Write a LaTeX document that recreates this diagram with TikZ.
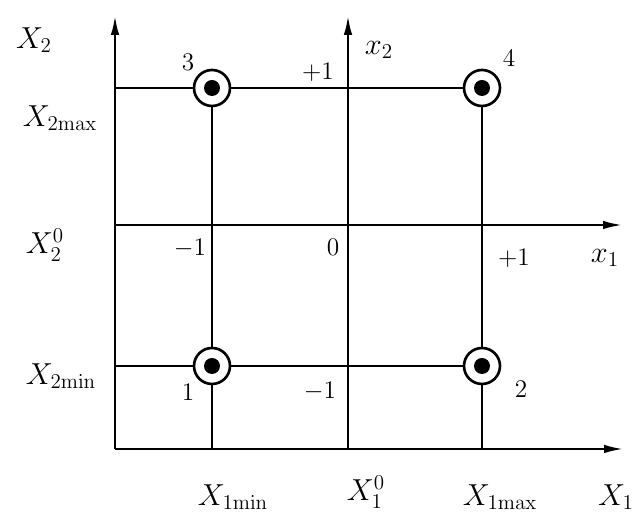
\documentclass[tikz,border=0pt]{standalone}
\usetikzlibrary{arrows.meta}
\begin{document}
\begin{tikzpicture}[x=0.02cm, y=0.02cm, line width=1.5pt,
    pt/.style={circle, draw, fill=white, minimum size=0.72cm, inner sep=0pt,
      path picture={\fill[black] (path picture bounding box.center) circle (0.16cm);}},
    lbl/.style={font=\LARGE},
    num/.style={font=\Large}]

% Dimensions
\def\xL{115}  % left axis X2
\def\xA{212}  % X1min
\def\xB{348}  % X1^0 (x2 axis)
\def\xC{482}  % X1max
\def\xR{624}  % arrow ends to the right
\def\yA{70}   % bottom axis X1
\def\yB{153}  % X2min
\def\yC{294}  % X2^0 (x1 axis)
\def\yD{431}  % X2max
\def\yT{504}  % arrow ends at the top

\useasboundingbox (0,0) rectangle (636,519);

% Axes
\draw[-{Latex[length=4mm,width=1.7mm]}] (\xL,\yA) -- (\xR,\yA);
\draw[-{Latex[length=4mm,width=1.7mm]}] (\xL,\yA) -- (\xL,\yT);
\draw[-{Latex[length=4mm,width=1.7mm]}] (\xL,\yC) -- (\xR-1,\yC);
\draw[-{Latex[length=4mm,width=1.7mm]}] (\xB,\yA) -- (\xB,\yT);

% Levels of the plan
\draw (\xL,\yD) -- (\xC,\yD);
\draw (\xL,\yB) -- (\xC,\yB);
\draw (\xA,\yA) -- (\xA,\yD);
\draw (\xC,\yA) -- (\xC,\yD);

% Points of the plan
\node[pt] (p1) at (\xA,\yB) {};
\node[pt] (p2) at (\xC,\yB) {};
\node[pt] (p3) at (\xA,\yD) {};
\node[pt] (p4) at (\xC,\yD) {};
\node[num] (n1) at (188,127) {1};
\node[num] (n2) at (521,130) {2};
\node[num] (n3) at (188,457) {3};
\node[num] (n4) at (509,461) {4};

% Natural variables
\node[lbl] (Xtwo) at (34,479) {$X_2$};
\node[lbl] (Xtwomax) at (60,401) {$X_{2\mathrm{max}}$};
\node[lbl] (Xtwozero) at (45,274) {$X_2^0$};
\node[lbl] (Xtwomin) at (61,143) {$X_{2\mathrm{min}}$};
\node[lbl] (Xonemin) at (233,22) {$X_{1\mathrm{min}}$};
\node[lbl] (Xonezero) at (366,27) {$X_1^0$};
\node[lbl] (Xonemax) at (500,22) {$X_{1\mathrm{max}}$};
\node[lbl] (Xone) at (616,22) {$X_1$};

% Coded variables
\node[lbl] (xtwo) at (379,469) {$x_2$};
\node[lbl] (xone) at (605,261) {$x_1$};
\node[num] (ptop) at (318,447) {$+1$};
\node[num] (mleft) at (190,271) {$-1$};
\node[num] (zero) at (333,272) {0};
\node[num] (pright) at (514,261) {$+1$};
\node[num] (mbot) at (320,128) {$-1$};
\end{tikzpicture}
\end{document}
